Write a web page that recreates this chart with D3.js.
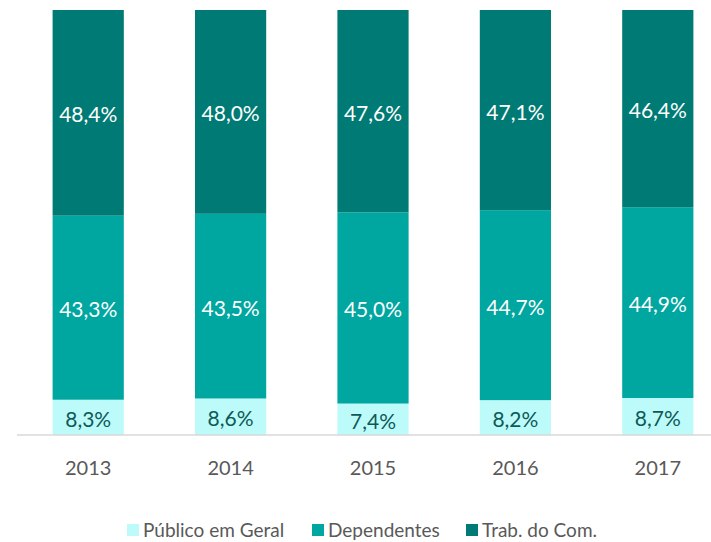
<!DOCTYPE html>
<html>
<head>
<meta charset="utf-8">
<script src="https://cdn.jsdelivr.net/npm/d3@7"></script>
<style>
  body { margin: 0; background: #fff; }
  svg { font-family: Lato, "Open Sans", sans-serif; }
</style>
</head>
<body>
<svg id="chart" width="711" height="542"></svg>
<script>
const years = ["2013", "2014", "2015", "2016", "2017"];
const publico = [8.3, 8.6, 7.4, 8.2, 8.7];
const dependentes = [43.3, 43.5, 45.0, 44.7, 44.9];
const trabalhadores = [48.4, 48.0, 47.6, 47.1, 46.4];

const seriesNames = ["Público em Geral", "Dependentes", "Trab. do Com."];
const seriesColors = ["#bdfbfb", "#00a6a0", "#007a74"];
const labelColors = ["#0d5a55", "#ffffff", "#ffffff"];

const rows = years.map((y, i) => ({
  year: y,
  "Público em Geral": publico[i],
  "Dependentes": dependentes[i],
  "Trab. do Com.": trabalhadores[i]
}));

const svg = d3.select("#chart");

const x = d3.scaleBand()
  .domain(years)
  .range([17, 729])
  .paddingInner(0.5)
  .paddingOuter(0.25);

const y = d3.scaleLinear()
  .domain([0, 1])
  .range([435, 10]);

const stack = d3.stack()
  .keys(seriesNames)
  .offset(d3.stackOffsetExpand);

const stacked = stack(rows);

const layers = svg.selectAll(".layer")
  .data(stacked)
  .enter()
  .append("g")
  .attr("class", "layer")
  .attr("fill", (d, i) => seriesColors[i]);

layers.selectAll("rect")
  .data(d => d)
  .enter()
  .append("rect")
  .attr("x", d => x(d.data.year))
  .attr("y", d => y(d[1]))
  .attr("width", x.bandwidth())
  .attr("height", d => y(d[0]) - y(d[1]));

layers.each(function (layer, li) {
  d3.select(this).selectAll("text")
    .data(layer)
    .enter()
    .append("text")
    .attr("x", d => x(d.data.year) + x.bandwidth() / 2)
    .attr("y", d => (y(d[0]) + y(d[1])) / 2 + 2)
    .attr("dy", "0.36em")
    .attr("text-anchor", "middle")
    .attr("fill", labelColors[li])
    .style("font-size", "21px")
    .text(d => d.data[layer.key].toFixed(1).replace(".", ",") + "%");
});

// x axis
const xAxis = svg.append("g")
  .attr("transform", "translate(0,435)")
  .call(d3.axisBottom(x).tickSize(0));
xAxis.select(".domain").remove();
xAxis.append("line")
  .attr("x1", 17)
  .attr("x2", 711)
  .attr("stroke", "#d9d9d9")
  .attr("stroke-width", 1.5);
xAxis.selectAll(".tick text")
  .attr("y", 40)
  .attr("dy", 0)
  .attr("fill", "#595959")
  .style("font-size", "20px")
  .style("font-family", "Lato, 'Open Sans', sans-serif");

// legend
const legendX = [127, 312, 466];
const legend = svg.selectAll(".legend")
  .data(seriesNames)
  .enter()
  .append("g")
  .attr("class", "legend")
  .attr("transform", (d, i) => `translate(${legendX[i]},524)`);

legend.append("rect")
  .attr("width", 12)
  .attr("height", 12)
  .attr("fill", (d, i) => seriesColors[i]);

legend.append("text")
  .attr("x", 16)
  .attr("y", 13)
  .attr("fill", "#595959")
  .style("font-size", "19px")
  .text(d => d);
</script>
</body>
</html>
